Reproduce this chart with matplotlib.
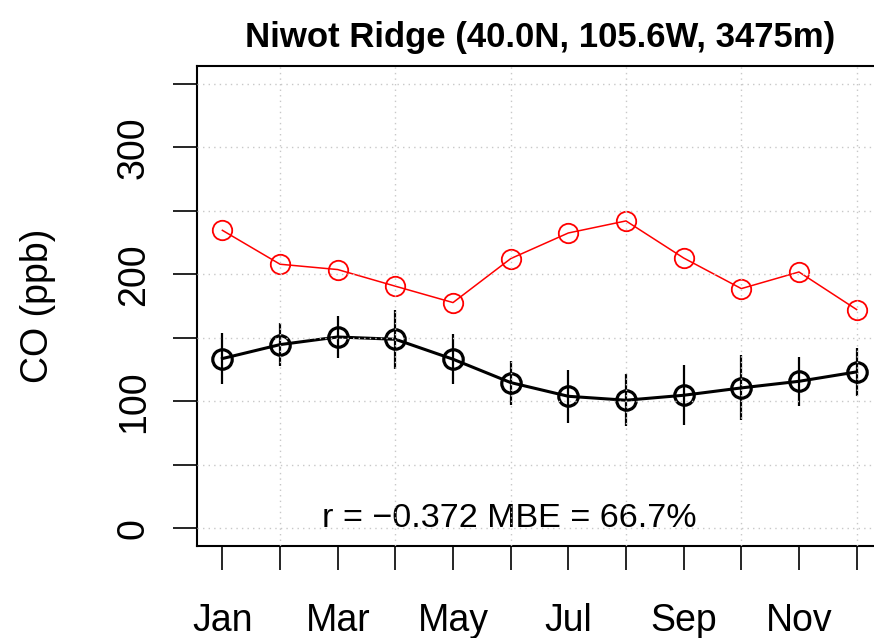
import matplotlib
matplotlib.use("Agg")
from matplotlib import pyplot as plt
import numpy as np

plt.rcParams['font.family'] = ['Liberation Sans', 'DejaVu Sans']

# 数据
months = np.arange(1, 13)
month_labels = ['Jan', '', 'Mar', '', 'May', '', 'Jul', '', 'Sep', '', 'Nov', '']
model_co = [234.6, 207.9, 203.7, 190.6, 177.7, 212.3, 232.5, 242.0, 212.8, 188.7, 201.8, 172.2]
obs_co = [133.6, 144.6, 150.6, 148.8, 133.1, 114.7, 103.9, 100.8, 104.7, 110.5, 115.7, 123.1]
obs_sd = [20.3, 16.7, 16.2, 23.4, 19.7, 17.3, 21.0, 20.6, 23.6, 25.6, 19.3, 18.7]
y_ticks = [0, 50, 100, 150, 200, 250, 300, 350]
y_labels = ['0', '', '100', '', '200', '', '300', '']
title = 'Niwot Ridge (40.0N, 105.6W, 3475m)'
stat_text = 'r = \u22120.372 MBE = 66.7%'

fig = plt.figure(figsize=(8.74, 6.38), dpi=100)
W, H = 874, 638
ax = fig.add_axes([197 / W, (H - 546) / H, (882 - 197) / W, (546 - 66) / H])

# 观测值误差线
obs_lo = np.array(obs_co) - np.array(obs_sd)
obs_hi = np.array(obs_co) + np.array(obs_sd)
ax.vlines(months, obs_lo, obs_hi, color='black', lw=1.6, zorder=2)

# 模式 (红) 与观测 (黑)
ax.plot(months, model_co, color='red', lw=1.1, marker='o', ms=14,
        mfc='none', mec='red', mew=1.3, zorder=3)
ax.plot(months, obs_co, color='black', lw=2.2, marker='o', ms=14,
        mfc='none', mec='black', mew=2.3, zorder=3)

# 网格 (画在数据之上)
for yv in y_ticks:
    ax.axhline(yv, color='#c8c8c8', lw=1.0, ls=(0, (1, 3)), zorder=5)
for xv in months[1::2]:
    ax.axvline(xv, color='#c8c8c8', lw=1.0, ls=(0, (1, 3)), zorder=5)

ax.set_xlim(0.56, 12.44)
ax.set_ylim(-14, 364)

ax.set_xticks(months)
ax.set_xticklabels(month_labels, fontsize=27)
ax.set_yticks(y_ticks)
ax.set_yticklabels(y_labels, fontsize=27, rotation=90, va='center')
ax.tick_params(axis='x', length=17, width=1.2, pad=24)
ax.tick_params(axis='y', length=17.5, width=1.2, pad=15)
for s in ax.spines.values():
    s.set_linewidth(1.5)

fig.text(38 / W, 1 - 306 / H, 'CO (ppb)', fontsize=27, rotation=90,
         ha='center', va='center')
fig.text(540 / W, 1 - 37 / H, title, fontsize=25, fontweight='bold',
         ha='center', va='center')
ax.text(5.98, 8, stat_text, fontsize=24.6, ha='center', va='center')

fig.savefig('out.png', dpi=100)
